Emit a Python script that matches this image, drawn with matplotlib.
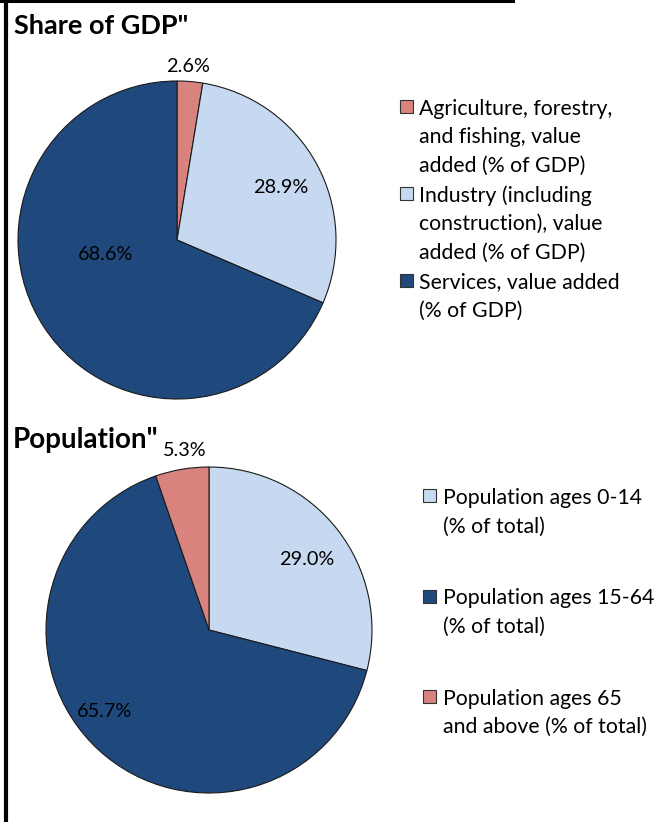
import matplotlib
matplotlib.use("Agg")
import matplotlib.pyplot as plt
from matplotlib.patches import Rectangle
from matplotlib.lines import Line2D

plt.rcParams['font.family'] = ['Lato', 'DejaVu Sans']

gdp_labels = ["Agriculture, forestry,\nand fishing, value\nadded (% of GDP)",
              "Industry (including\nconstruction), value\nadded (% of GDP)",
              "Services, value added\n(% of GDP)"]
gdp_values = [2.6, 28.9, 68.6]
gdp_colors = ["#D9837F", "#C6D9F1", "#1F497D"]

pop_labels = ["Population ages 0-14\n(% of total)",
              "Population ages 15-64\n(% of total)",
              "Population ages 65\nand above (% of total)"]
pop_values = [29.0, 65.7, 5.3]
pop_colors = ["#C6D9F1", "#1F497D", "#D9837F"]

W, H = 672, 822
fig = plt.figure(figsize=(W/100, H/100), dpi=100)

def fx(x):
    return x / W

def fy(y):
    return 1 - y / H

def fax(x0, y0, x1, y1):
    return fig.add_axes([x0/W, 1 - y1/H, (x1-x0)/W, (y1-y0)/H])

# label positions in pie data units (layout only)
gdp_lab_pos = [(0.07, 1.09), (0.65, 0.33), (-0.45, -0.09)]
pop_lab_pos = [(0.60, 0.43), (-0.64, -0.50), (-0.15, 1.10)]

def draw_pie(ax, values, colors, lab_pos):
    wedges, _ = ax.pie(values, colors=colors, startangle=90, counterclock=False,
                       wedgeprops=dict(edgecolor="#1a1a1a", linewidth=0.8))
    for v, (x, y) in zip(values, lab_pos):
        ax.text(x, y, f"{v:.1f}%", ha="center", va="center", fontsize=14.3, color="black")
    ax.set_xlim(-1, 1); ax.set_ylim(-1, 1)
    ax.set_aspect("equal")
    ax.axis("off")
    return wedges

ax1 = fax(18, 81, 336, 399)
draw_pie(ax1, gdp_values, gdp_colors, gdp_lab_pos)
ax2 = fax(46, 467, 372, 793)
draw_pie(ax2, pop_values, pop_colors, pop_lab_pos)

fig.text(fx(14), fy(34), 'Share of GDP"', fontsize=19.5, fontweight="bold", va="baseline", ha="left")
fig.text(fx(13), fy(448), 'Population"', fontsize=20, fontweight="bold", va="baseline", ha="left")

LINE = 28.4  # px per text line

def draw_legend(labels, colors, x_box, x_text, y_first, entry_gap):
    y = y_first
    for lab, c in zip(labels, colors):
        fig.add_artist(Rectangle((fx(x_box), fy(y + 6.5)), 13/W, 13/H,
                                 transform=fig.transFigure, facecolor=c,
                                 edgecolor="#333333", linewidth=0.8))
        n = lab.count("\n") + 1
        for i, line in enumerate(lab.split("\n")):
            fig.text(fx(x_text), fy(y + i * LINE), line, fontsize=15.3,
                     ha="left", va="center_baseline")
        y += n * LINE + entry_gap

draw_legend(gdp_labels, gdp_colors, 400, 419, 107, 1.5)
draw_legend(pop_labels, pop_colors, 423, 443, 496, 43.5)

# frame lines
fig.add_artist(Line2D([5.5/W, 5.5/W], [0, 1], transform=fig.transFigure, color="black", linewidth=3))
fig.add_artist(Line2D([0, 513/W], [1 - 1.5/H, 1 - 1.5/H], transform=fig.transFigure, color="black", linewidth=2.2))

fig.savefig("out.png", dpi=100)
